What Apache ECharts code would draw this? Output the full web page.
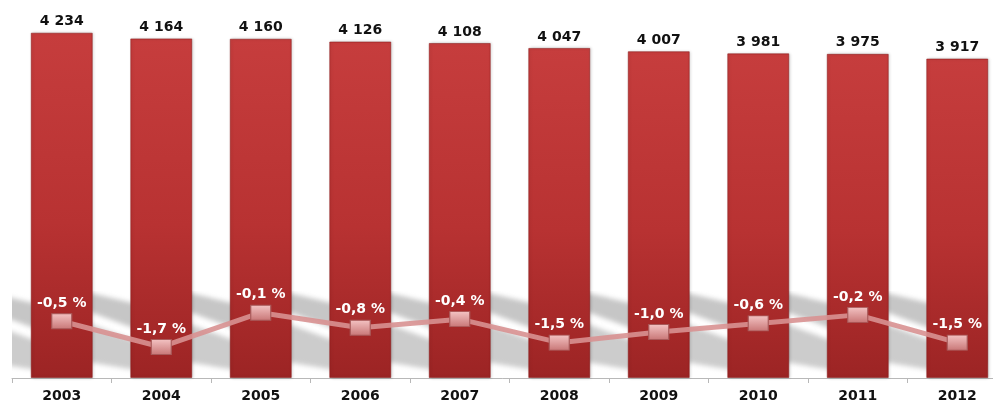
<!DOCTYPE html>
<html>
<head>
<meta charset="utf-8">
<script src="https://cdn.jsdelivr.net/npm/echarts@6/dist/echarts.min.js"></script>
<style>html,body{margin:0;padding:0;background:#fff;overflow:hidden}#c{width:993px;height:403px}</style>
</head>
<body>
<div id="c"></div>
<script>
const years = ['2003','2004','2005','2006','2007','2008','2009','2010','2011','2012'];
const totals = [4234, 4164, 4160, 4126, 4108, 4047, 4007, 3981, 3975, 3917];
const changes = [-0.5, -1.7, -0.1, -0.8, -0.4, -1.5, -1.0, -0.6, -0.2, -1.5];

function fmtThousands(v){ return String(v).replace(/\B(?=(\d{3})+(?!\d))/g, ' '); }
function fmtPct(v){ return v.toFixed(1).replace('.', ',') + ' %'; }

// decorative soft striped shadow behind the bars (tile = two category widths)
const tile = document.createElement('canvas');
tile.width = 199; tile.height = 86;
(function(){
  const g = tile.getContext('2d');
  g.fillStyle = '#ffffff'; g.fillRect(0,0,199,86);
  g.filter = 'blur(2.5px)';
  for (let k = -1; k < 3; k++) {
    const b = k * 99.5;
    g.fillStyle = 'rgba(198,198,198,1)';
    g.beginPath();
    g.moveTo(b-30, 0); g.lineTo(b+30, 14); g.lineTo(b+30, 40); g.lineTo(b-30, 18); g.closePath(); g.fill();
    g.fillStyle = 'rgba(204,204,204,1)';
    g.beginPath();
    g.moveTo(b-30, 30); g.lineTo(b+30, 52); g.lineTo(b+30, 80); g.lineTo(b-30, 70); g.closePath(); g.fill();
  }
  g.filter = 'none';
})();

const chart = echarts.init(document.getElementById('c'), null, {renderer:'canvas'});
chart.setOption({
  animation: false,
  backgroundColor: '#ffffff',
  grid: { left: 12, width: 995, top: 11, bottom: 25, containLabel: false, outerBoundsMode: 'none' },
  graphic: [{
    type: 'group', x: 12, y: 291, z: -10, silent: true,
    children: [{ type: 'rect', shape: { x: 0, y: 0, width: 976, height: 86 },
      style: { fill: { image: tile, repeat: 'repeat-x' } } }]
  }],
  xAxis: {
    type: 'category', data: years,
    axisLine: { show: true, lineStyle: { color: '#b8b8b8', width: 1 } },
    axisTick: { show: true, length: 5, lineStyle: { color: '#b8b8b8' } },
    axisLabel: { color: '#111', fontFamily: 'DejaVu Sans', fontWeight: 'bold', fontSize: 14, margin: 11 }
  },
  yAxis: [
    { type: 'value', min: 0, max: 4500, show: false, splitLine: { show: false } },
    { type: 'value', min: -3.15, max: 14, show: false, splitLine: { show: false } }
  ],
  series: [
    {
      type: 'bar', data: totals, barWidth: 62, yAxisIndex: 0, z: 2,
      itemStyle: {
        color: new echarts.graphic.LinearGradient(0,0,0,1,[
          {offset:0,color:'#c63d3d'},{offset:0.55,color:'#b83232'},{offset:1,color:'#9c2424'}
        ]),
        borderColor: 'rgba(140,25,25,0.55)', borderWidth: 1,
        shadowColor: 'rgba(0,0,0,0.2)', shadowBlur: 3, shadowOffsetX: 1, shadowOffsetY: 0
      },
      label: { show: true, position: 'top', distance: 4, color: '#111',
        fontFamily: 'DejaVu Sans', fontWeight: 'bold', fontSize: 14,
        formatter: p => fmtThousands(p.value) }
    },
    {
      type: 'line', data: changes, yAxisIndex: 1, z: 5,
      symbol: 'rect', symbolSize: [20, 15],
      lineStyle: { color: 'rgba(216,145,145,0.9)', width: 5 },
      itemStyle: {
        color: new echarts.graphic.LinearGradient(0,0,0,1,[
          {offset:0,color:'#f4c4c4'},{offset:1,color:'#c87676'}
        ]),
        borderColor: '#a85a5a', borderWidth: 1
      },
      label: { show: true, position: 'top', distance: 3, color: '#ffffff',
        fontFamily: 'DejaVu Sans', fontWeight: 'bold', fontSize: 14,
        formatter: p => fmtPct(p.value) }
    }
  ]
});
</script>
</body>
</html>
